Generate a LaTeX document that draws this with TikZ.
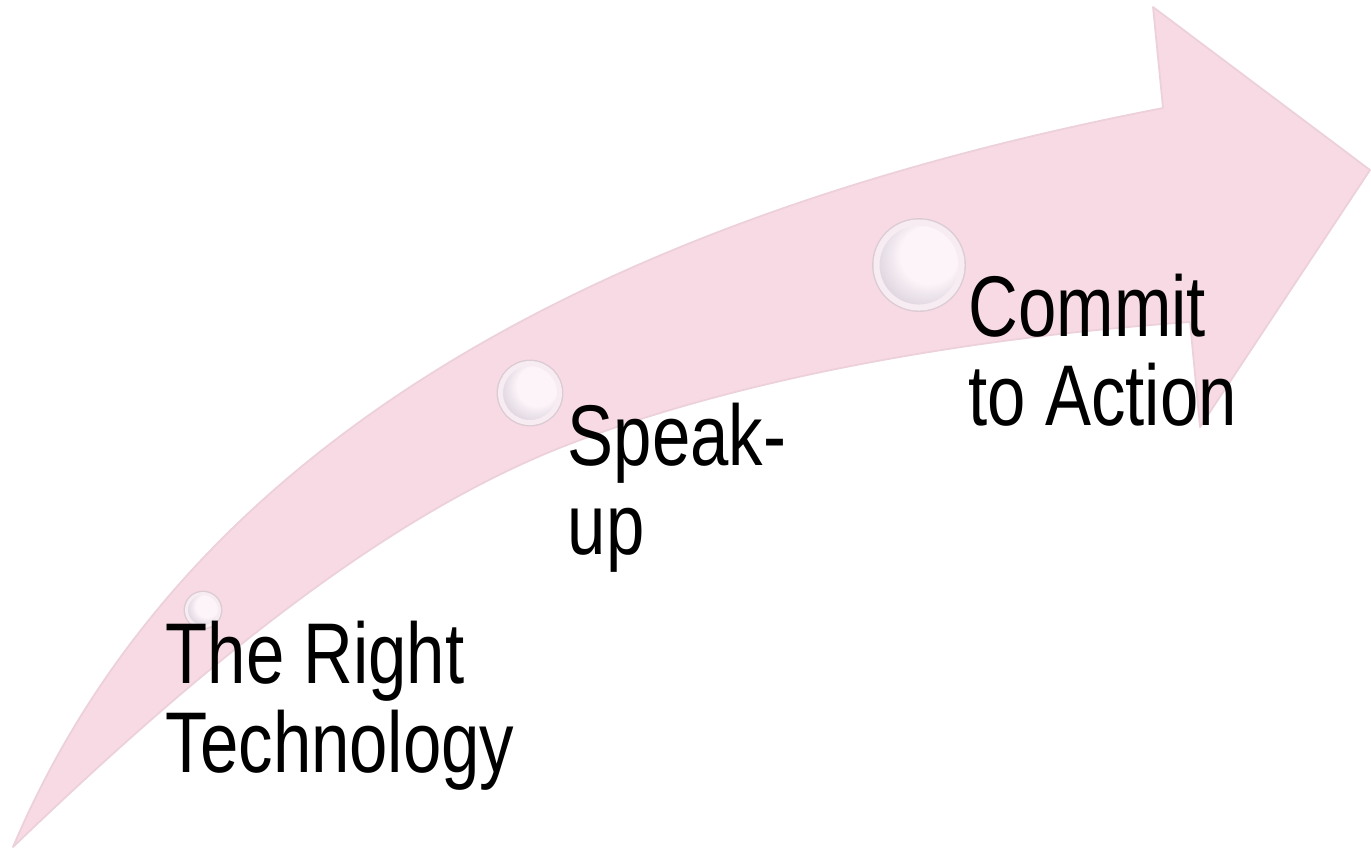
\documentclass[tikz,border=0pt]{standalone}
\usepackage{fontspec}
\setmainfont{Liberation Sans}[FakeStretch=0.8]
\definecolor{arrowpink}{RGB}{247,218,228}
\definecolor{arrowedge}{RGB}{236,208,218}
\definecolor{bubrim}{RGB}{246,236,241}
\definecolor{bubline}{RGB}{220,203,211}
\definecolor{bubdark}{RGB}{200,190,206}
\definecolor{bublight}{RGB}{252,244,248}
\pgfdeclareradialshading{bubshade}{\pgfpoint{9bp}{9bp}}{color(0bp)=(bublight); color(17bp)=(bublight); color(38bp)=(bubdark); color(50bp)=(bubdark)}
\tikzset{
  bubble/.style={circle, inner sep=0pt, shading=bubshade, draw=bubrim, line width=#1,
    preaction={draw=bubline, line width=#1+0.8pt}},
  steptext/.style={anchor=north west, inner sep=0pt, align=left, text=black,
    font=\fontsize{24.5}{25.5}\selectfont},
  arrowbody/.style={fill=arrowpink, draw=arrowedge, line width=0.5pt, line join=round}
}
\begin{document}
\begin{tikzpicture}[x=0.01cm, y=-0.01cm]
\useasboundingbox (0,0) rectangle (1371,856);
\path[arrowbody] (13,847)
  .. controls (200,405) and (673,203) .. (1163,108)
  -- (1153,7) -- (1370,170) -- (1200,427) -- (1190,322)
  .. controls (990,336) and (753,373) .. (567,445)
  .. controls (381,517) and (193,674) .. (13,847)
  -- cycle;
\node[bubble=0.03cm, minimum size=0.33cm] (b1) at (203,610) {};
\node[bubble=0.05cm, minimum size=0.59cm] (b2) at (530,393) {};
\node[bubble=0.06cm, minimum size=0.85cm] (b3) at (919,265) {};
\node[steptext] (t1) at (165,620) {The Right\\Technology};
\node[steptext] (t2) at (567,402) {Speak-\\up};
\node[steptext] (t3) at (968,273) {Commit\\to Action};
\end{tikzpicture}
\end{document}
